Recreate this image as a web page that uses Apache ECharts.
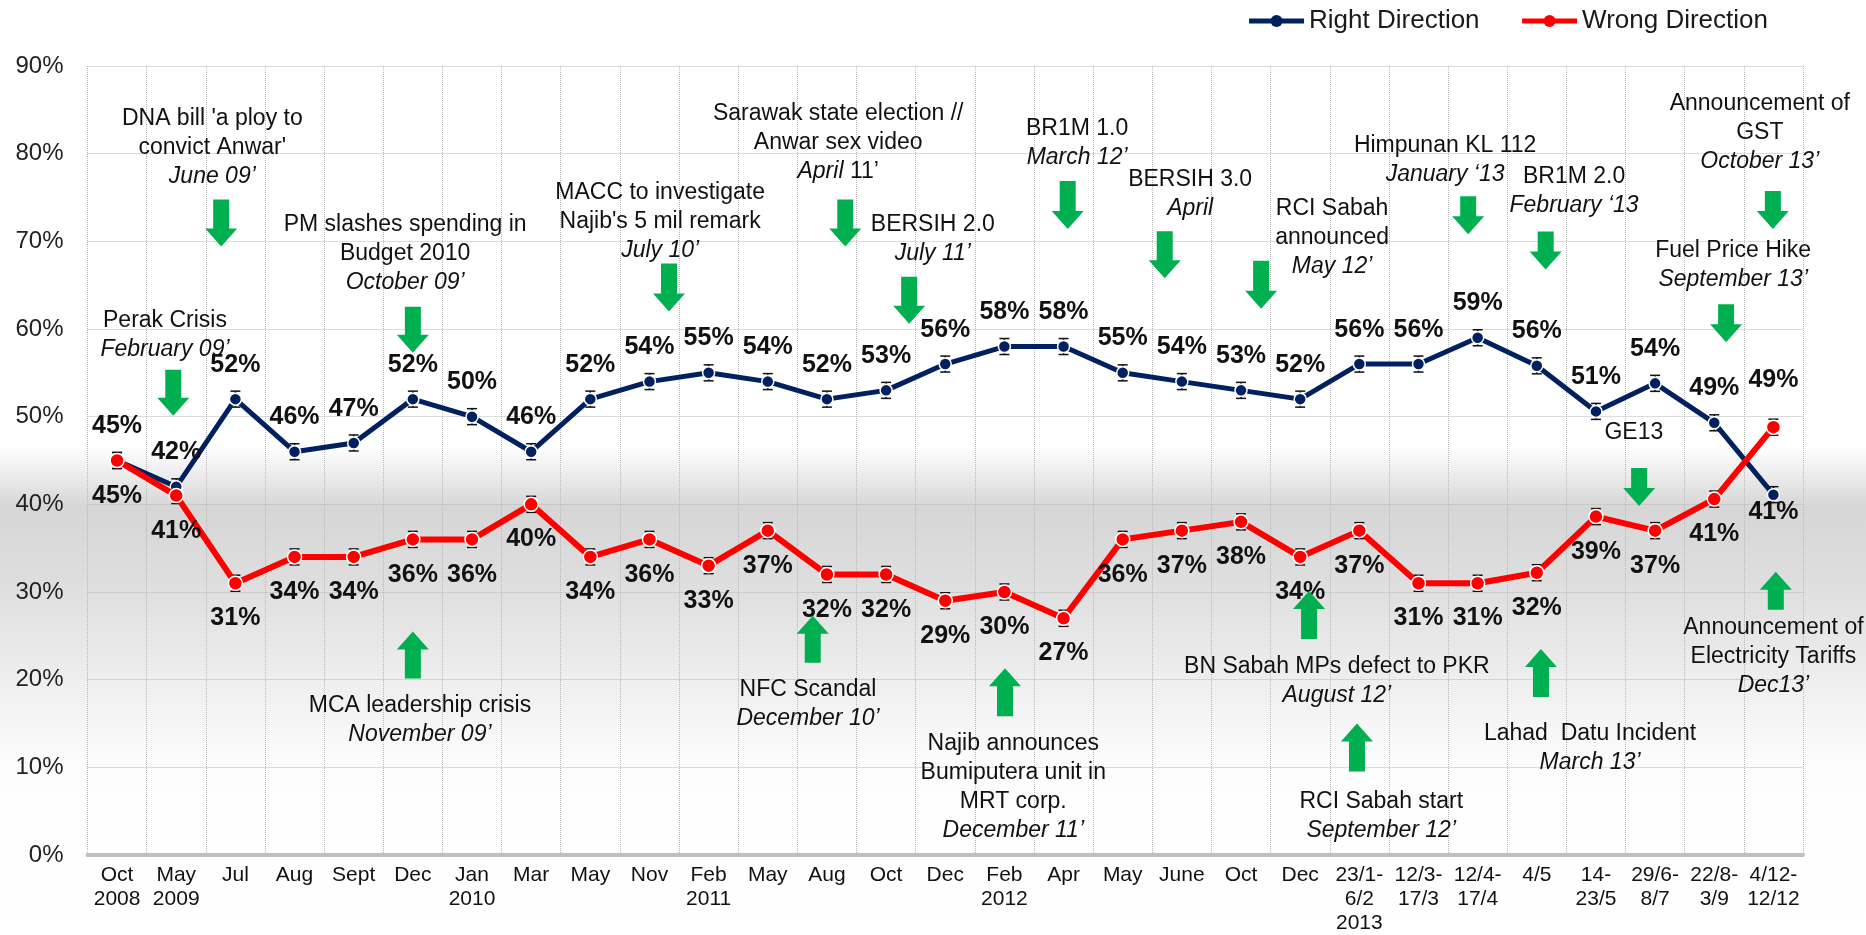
<!DOCTYPE html>
<html>
<head>
<meta charset="utf-8">
<title>Right / Wrong Direction</title>
<script src="https://cdn.jsdelivr.net/npm/echarts@6/dist/echarts.min.js"></script>
<style>
  html, body { margin: 0; padding: 0; background: #fff; }
  #chart { width: 1866px; height: 935px; }
</style>
</head>
<body>
<div id="chart"></div>
<script>
// survey rounds
var categories = ['Oct\n2008', 'May\n2009', 'Jul', 'Aug', 'Sept', 'Dec', 'Jan\n2010', 'Mar', 'May', 'Nov',
    'Feb\n2011', 'May', 'Aug', 'Oct', 'Dec', 'Feb\n2012', 'Apr', 'May', 'June', 'Oct', 'Dec',
    '23/1-\n6/2\n2013', '12/3-\n17/3', '12/4-\n17/4', '4/5', '14-\n23/5', '29/6-\n8/7', '22/8-\n3/9', '4/12-\n12/12'];
var rightDirection = [45, 42, 52, 46, 47, 52, 50, 46, 52, 54, 55, 54, 52, 53, 56, 58, 58, 55, 54, 53, 52,
    56, 56, 59, 55.8, 50.6, 53.8, 49.3, 41.1];
var wrongDirection = [45, 41, 31, 34, 34, 36, 36, 40, 34, 36, 33, 37, 32, 32, 29, 30, 27, 36, 37, 38, 34,
    37, 31, 31, 32.2, 38.6, 37, 40.6, 48.8];
var seriesNames = ['Right Direction', 'Wrong Direction'];

// events: x = survey index, y = % (centre of the text block)
var notes = [
    {x: 0.81, y: 59.3, text: ['Perak Crisis'], date: 'February 09’'},
    {x: 1.61, y: 80.7, text: ["DNA bill 'a ploy to", "convict Anwar'"], date: 'June 09’'},
    {x: 4.87, y: 68.6, text: ['PM slashes spending in', 'Budget 2010'], date: 'October 09’'},
    {x: 9.18, y: 72.3, text: ['MACC to investigate', "Najib's 5 mil remark"], date: 'July 10’'},
    {x: 12.19, y: 81.3, text: ['Sarawak state election //', 'Anwar sex video'], date: '{i|April} 11’'},
    {x: 13.79, y: 70.25, text: ['BERSIH 2.0'], date: 'July 11’'},
    {x: 16.23, y: 81.2, text: ['BR1M 1.0'], date: 'March 12’'},
    {x: 18.14, y: 75.4, text: ['BERSIH 3.0'], date: 'April'},
    {x: 20.54, y: 70.4, text: ['RCI Sabah', 'announced'], date: 'May 12’'},
    {x: 22.45, y: 79.3, text: ['Himpunan KL 112'], date: 'January ‘13'},
    {x: 24.63, y: 75.7, text: ['BR1M 2.0'], date: 'February ‘13'},
    {x: 27.77, y: 82.4, text: ['Announcement of', 'GST'], date: 'October 13’'},
    {x: 27.32, y: 67.3, text: ['Fuel Price Hike'], date: 'September 13’'},
    {x: 25.64, y: 48.2, text: ['GE13']},
    {x: 5.12, y: 15.4, text: ['MCA leadership crisis'], date: 'November 09’'},
    {x: 11.68, y: 17.2, text: ['NFC Scandal'], date: 'December 10’'},
    {x: 15.15, y: 7.7, text: ['Najib announces', 'Bumiputera unit in', 'MRT corp.'], date: 'December 11’'},
    {x: 20.62, y: 19.85, text: ['BN Sabah MPs defect to PKR'], date: 'August 12’'},
    {x: 21.37, y: 4.4, text: ['RCI Sabah start'], date: 'September 12’'},
    {x: 24.9, y: 12.2, text: ['Lahad  Datu Incident'], date: 'March 13’'},
    {x: 28.0, y: 22.6, text: ['Announcement of', 'Electricity Tariffs'], date: 'Dec13’'}
];

// green arrows: x = survey index, y = % at the arrow tip
var arrows = [
    {x: 0.95, y: 50.1, dir: 'down', len: 46},
    {x: 1.76, y: 69.4, dir: 'down', len: 47},
    {x: 5.0, y: 57.3, dir: 'down', len: 46},
    {x: 9.33, y: 62.0, dir: 'down', len: 48},
    {x: 12.31, y: 69.4, dir: 'down', len: 47},
    {x: 13.39, y: 60.6, dir: 'down', len: 47},
    {x: 16.07, y: 71.4, dir: 'down', len: 48},
    {x: 17.71, y: 65.8, dir: 'down', len: 47},
    {x: 19.34, y: 62.3, dir: 'down', len: 48},
    {x: 22.84, y: 70.8, dir: 'down', len: 38},
    {x: 24.15, y: 66.8, dir: 'down', len: 38},
    {x: 27.99, y: 71.4, dir: 'down', len: 38},
    {x: 27.2, y: 58.5, dir: 'down', len: 38},
    {x: 25.73, y: 39.8, dir: 'down', len: 38},
    {x: 5.0, y: 25.5, dir: 'up', len: 47},
    {x: 11.76, y: 27.3, dir: 'up', len: 47},
    {x: 15.01, y: 21.3, dir: 'up', len: 48},
    {x: 20.15, y: 30.1, dir: 'up', len: 48},
    {x: 20.96, y: 15.0, dir: 'up', len: 48},
    {x: 24.07, y: 23.5, dir: 'up', len: 48},
    {x: 28.04, y: 32.3, dir: 'up', len: 38}
];

var FONT = '"Liberation Sans", Arial, Helvetica, sans-serif';
var NAVY = '#002060';
var RED = '#ff0000';

var chart = echarts.init(document.getElementById('chart'));

function renderNote(params, api) {
    var n = notes[params.dataIndex];
    var c = api.coord([api.value(0), api.value(1)]);
    var lines = n.text.slice();
    var total = lines.length + (n.date ? 1 : 0);
    var lh = 29;
    var y0 = c[1] - (total - 1) * lh / 2;
    var kids = lines.map(function (t, i) {
        return {
            type: 'text', x: c[0], y: y0 + i * lh,
            style: {text: t, fill: '#111', fontSize: 23, fontFamily: FONT,
                align: 'center', verticalAlign: 'middle'}
        };
    });
    if (n.date) {
        var hasRich = n.date.indexOf('{i|') === 0;
        kids.push({
            type: 'text', x: c[0], y: y0 + lines.length * lh,
            style: {
                text: n.date, fill: '#111', fontSize: 23, fontFamily: FONT,
                fontStyle: hasRich ? 'normal' : 'italic',
                align: 'center', verticalAlign: 'middle',
                rich: {i: {fontStyle: 'italic', fontSize: 23, fontFamily: FONT, fill: '#111'}}
            }
        });
    }
    return {type: 'group', children: kids};
}

function renderArrow(params, api) {
    var a = arrows[params.dataIndex];
    var c = api.coord([api.value(0), api.value(1)]);
    var s = a.dir === 'down' ? 1 : -1;
    var L = a.len, h = 18, hw = 16, sw = 8;
    var pts = [[-sw, -L], [sw, -L], [sw, -h], [hw, -h], [0, 0], [-hw, -h], [-sw, -h]].map(function (p) {
        return [c[0] + p[0], c[1] + p[1] * s];
    });
    return {type: 'polygon', shape: {points: pts}, style: {fill: '#00b050'}};
}

// small black error bar behind every point
function renderErr(params, api) {
    var c = api.coord([api.value(0), api.value(1)]);
    var st = {stroke: '#111', lineWidth: 1.5};
    return {
        type: 'group',
        children: [
            {type: 'line', shape: {x1: c[0], y1: c[1] - 8, x2: c[0], y2: c[1] + 8}, style: st},
            {type: 'line', shape: {x1: c[0] - 5, y1: c[1] - 8, x2: c[0] + 5, y2: c[1] - 8}, style: st},
            {type: 'line', shape: {x1: c[0] - 5, y1: c[1] + 8, x2: c[0] + 5, y2: c[1] + 8}, style: st}
        ]
    };
}

var last = categories.length - 1;
var rightData = rightDirection.map(function (v, i) {
    return i === last ? {value: v, label: {position: 'bottom', distance: -2}} : v;
});
var wrongData = wrongDirection.map(function (v, i) {
    return i === last ? {value: v, label: {position: 'top', distance: 27}} : v;
});

function pct(p) { return Math.round(p.value) + '%'; }

var labelStyle = {show: true, formatter: pct, fontSize: 25, fontWeight: 'bold', color: '#111', fontFamily: FONT};

chart.setOption({
    animation: false,
    graphic: [{
        type: 'rect', left: 0, top: 0, z: -100, silent: true,
        shape: {width: 1866, height: 935},
        style: {
            fill: new echarts.graphic.LinearGradient(0, 0, 0, 1, [
                {offset: 0, color: '#ffffff'},
                {offset: 0.478, color: '#ffffff'},
                {offset: 0.542, color: '#d6d6d6'},
                {offset: 0.624, color: '#dedede'},
                {offset: 0.713, color: '#ececec'},
                {offset: 0.82, color: '#fdfdfd'},
                {offset: 1, color: '#ffffff'}
            ])
        }
    }],
    legend: {
        data: seriesNames,
        top: 3,
        right: 93,
        itemWidth: 55,
        itemHeight: 15,
        itemGap: 40,
        lineStyle: {width: 5},
        itemStyle: {borderWidth: 0},
        textStyle: {fontSize: 26, color: '#1a1a1a', fontFamily: FONT}
    },
    grid: {left: 87.5, right: 63, top: 66, bottom: 78},
    xAxis: [{
        type: 'category',
        data: categories,
        axisLine: {lineStyle: {color: '#bfbfbf', width: 4}},
        axisTick: {alignWithLabel: true, length: 5, lineStyle: {color: '#bfbfbf', width: 3}},
        axisLabel: {interval: 0, fontSize: 21, lineHeight: 24, margin: 8, color: '#111', fontFamily: FONT},
        splitLine: {show: true, lineStyle: {color: '#b8b8b8', type: 'dotted', width: 1}}
    }, {
        type: 'value', min: -0.5, max: last + 0.5, show: false
    }],
    yAxis: {
        type: 'value',
        min: 0, max: 90, interval: 10,
        axisLine: {show: false},
        axisTick: {show: false},
        axisLabel: {formatter: '{value}%', fontSize: 24, margin: 24, color: '#222', fontFamily: FONT},
        splitLine: {lineStyle: {color: '#b8b8b8', type: 'dotted', width: 1}}
    },
    series: [{
        name: 'errRight', type: 'custom', renderItem: renderErr, silent: true, z: 1,
        data: rightDirection.map(function (v, i) { return [i, v]; })
    }, {
        name: 'errWrong', type: 'custom', renderItem: renderErr, silent: true, z: 1,
        data: wrongDirection.map(function (v, i) { return [i, v]; })
    }, {
        name: seriesNames[0],
        type: 'line',
        data: rightData,
        symbol: 'circle',
        symbolSize: 12,
        lineStyle: {color: NAVY, width: 5},
        itemStyle: {color: NAVY, borderColor: '#fff', borderWidth: 1.5},
        label: Object.assign({position: 'top', distance: 15}, labelStyle),
        z: 3
    }, {
        name: seriesNames[1],
        type: 'line',
        data: wrongData,
        symbol: 'circle',
        symbolSize: 14,
        lineStyle: {color: RED, width: 6},
        itemStyle: {color: RED, borderColor: '#fff', borderWidth: 1.5},
        label: Object.assign({position: 'bottom', distance: 15}, labelStyle),
        z: 4
    }, {
        name: 'arrows', type: 'custom', xAxisIndex: 1, renderItem: renderArrow, silent: true, clip: false, z: 5,
        data: arrows.map(function (a) { return [a.x, a.y]; })
    }, {
        name: 'notes', type: 'custom', xAxisIndex: 1, renderItem: renderNote, silent: true, clip: false, z: 6,
        data: notes.map(function (n) { return [n.x, n.y]; })
    }]
});
</script>
</body>
</html>
